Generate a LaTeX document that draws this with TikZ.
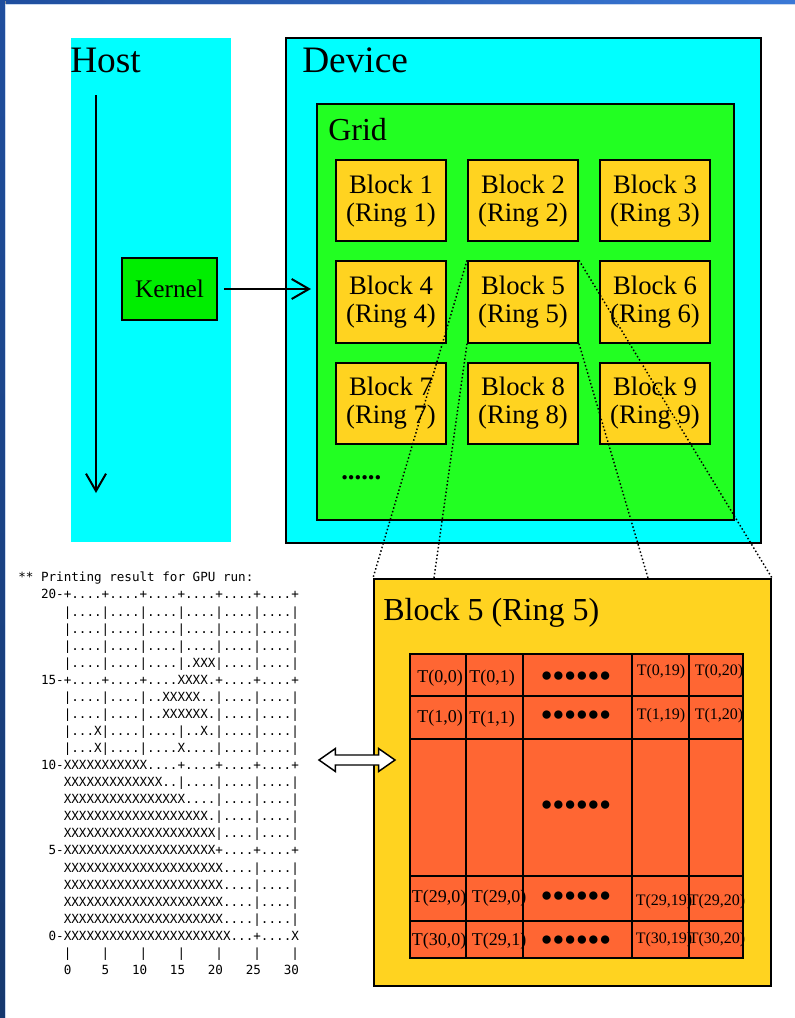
\documentclass[tikz,border=0pt]{standalone}
\usepackage{fontspec}
\setmainfont{Liberation Serif}
\setmonofont{DejaVu Sans Mono}
\usepackage{xcolor}
\definecolor{gpucyan}{HTML}{00FFFF}
\definecolor{gpugrid}{HTML}{22FF22}
\definecolor{gpukern}{HTML}{00EE00}
\definecolor{gpublock}{HTML}{FFD320}
\definecolor{gputhread}{HTML}{FF6633}
\definecolor{frametop}{HTML}{1F4E9E}
\definecolor{frameright}{HTML}{3A78D6}
\definecolor{framebot}{HTML}{16386E}
\definecolor{framelite}{HTML}{C8D8F0}
\usepackage{tikz}
\usetikzlibrary{arrows.meta, positioning, shapes.arrows, shadows}

\begin{document}
\begin{tikzpicture}[
  x=0.75pt, y=-0.75pt,
  area/.style={rectangle, draw=black, line width=1.5pt,
    anchor=north west, inner sep=0pt},
  shade/.style={drop shadow={shadow xshift=1.1pt, shadow yshift=-1.1pt,
    fill=black!40, opacity=1}},
  blk/.style={rectangle, draw=black, line width=1.5pt, fill=gpublock,
    minimum width=82.5pt, minimum height=61pt, inner sep=0pt,
    align=center, font=\fontsize{20}{21}\selectfont},
  ttl/.style={anchor=base west, inner sep=0pt,
    font=\fontsize{28}{30}\selectfont},
  sub/.style={anchor=base west, inner sep=0pt,
    font=\fontsize{24}{26}\selectfont},
  tc/.style={inner sep=0pt, font=\fontsize{13.5}{14}\selectfont},
  ts/.style={inner sep=0pt, font=\fontsize{12}{13}\selectfont},
  dots/.style={inner sep=0pt, font=\fontsize{14.5}{15}\selectfont},
  cellln/.style={line width=1.4pt},
  arr/.style={-{Straight Barb[length=13pt, width=15pt]}, line width=1.5pt},
  zoomln/.style={line width=1.1pt, dash pattern=on 1.1pt off 1.7pt},
  ascii/.style={anchor=north west, inner sep=0pt, align=left,
    font=\ttfamily\fontsize{9.45}{12.8}\selectfont},
  dblarr/.style={double arrow, draw=black, fill=white, line width=1.1pt,
    minimum height=57pt, inner xsep=0pt, inner ysep=3.2pt,
    double arrow head extend=4.8pt, double arrow tip angle=70}
]
  \useasboundingbox (0,0) rectangle (795,1018);

  % window frame
  \shade[left color=frametop, right color=frameright] (0,0) rectangle (795,4);
  \shade[top color=frametop, bottom color=framebot] (0,0) rectangle (5,1018);
  \draw[framelite, line width=0.75pt] (5.5,1018) -- (5.5,4.5) -- (795,4.5);

  % Host side
  \node[area, draw=none, fill=gpucyan, minimum width=120pt,
    minimum height=378pt] (host) at (70,37) {};
  \node[ttl] (hostlbl) at ([shift={(0,35)}]host.north west) {Host};
  \coordinate (hs) at (96,95);
  \coordinate (he) at (96,493);
  \draw[arr] (hs) -- (he);
  \node[area, fill=gpukern, minimum width=71.25pt, minimum height=46.5pt,
    font=\fontsize{19}{20}\selectfont] (kern) at (121,257) {};
  \node[font=\fontsize{19}{20}\selectfont] at (kern.center) {Kernel};

  % Device side
  \node[area, shade, fill=gpucyan, minimum width=356.25pt,
    minimum height=378.75pt] (dev) at (285,37) {};
  \node[ttl] (devlbl) at ([shift={(17,35)}]dev.north west) {Device};
  \node[area, fill=gpugrid, minimum width=312.75pt,
    minimum height=312pt] (grid) at (316,103) {};
  \node[sub] (gridlbl) at ([shift={(12,37)}]grid.north west) {Grid};

  \draw[arr] ([xshift=4.5pt]kern.east) -- ([xshift=-3.75pt]kern.east -| grid.west);

  % blocks
  \node[blk, anchor=north west] (b1) at ([shift={(19,56)}]grid.north west)
    {Block 1\\(Ring 1)};
  \node[blk, right=15pt of b1] (b2) {Block 2\\(Ring 2)};
  \node[blk, right=15pt of b2] (b3) {Block 3\\(Ring 3)};
  \node[blk, below=13.5pt of b1] (b4) {Block 4\\(Ring 4)};
  \node[blk, right=15pt of b4] (b5) {Block 5\\(Ring 5)};
  \node[blk, right=15pt of b5] (b6) {Block 6\\(Ring 6)};
  \node[blk, below=13.5pt of b4] (b7) {Block 7\\(Ring 7)};
  \node[blk, right=15pt of b7] (b8) {Block 8\\(Ring 8)};
  \node[blk, right=15pt of b8] (b9) {Block 9\\(Ring 9)};
  \node[anchor=base west, inner sep=0pt,
    font=\fontsize{20}{21}\selectfont\bfseries] (more) at (341,479) {......};

  % Block 5 close-up
  \node[area, shade, fill=gpublock, minimum width=297.75pt,
    minimum height=305.25pt] (big) at (373,578) {};
  \node[sub] (biglbl) at ([shift={(10,42)}]big.north west) {Block 5 (Ring 5)};

  \node[area, fill=gputhread, line width=1.4pt, minimum width=249.75pt,
    minimum height=228pt] (tbl) at ([shift={(36,75)}]big.north west) {};
  \draw[cellln] (466,653) -- (466,959) (523,653) -- (523,959)
    (632,653) -- (632,959) (689,653) -- (689,959)
    (409,696) -- (744,696) (409,739) -- (744,739)
    (409,876) -- (744,876) (409,921) -- (744,921);

  \node[tc] (t00) at (440,678) {T(0,0)};
  \node[tc] (t01) at (492,678) {T(0,1)};
  \node[dots] (r0) at (576,677) {●●●●●●};
  \node[ts] (t019) at (661,672) {T(0,19)};
  \node[ts] (t020) at (719,672) {T(0,20)};

  \node[tc] (t10) at (440,718) {T(1,0)};
  \node[tc] (t11) at (492,719) {T(1,1)};
  \node[dots] (r1) at (576,716) {●●●●●●};
  \node[ts] (t119) at (661,716) {T(1,19)};
  \node[ts] (t120) at (719,716) {T(1,20)};

  \node[dots] (rmid) at (576,806) {●●●●●●};

  \node[tc] (t290) at (439,898) {T(29,0)};
  \node[tc] (t29b) at (499,898) {T(29,0)};
  \node[dots] (r29) at (576,897) {●●●●●●};
  \node[ts] (t2919) at (664,902) {T(29,19)};
  \node[ts] (t2920) at (717,902) {T(29,20)};

  \node[tc] (t300) at (439,941) {T(30,0)};
  \node[tc] (t291) at (499,941) {T(29,1)};
  \node[dots] (r30) at (576,941) {●●●●●●};
  \node[ts] (t3019) at (664,940) {T(30,19)};
  \node[ts] (t3020) at (717,940) {T(30,20)};

  % zoom lines from Block 5
  \coordinate (zl) at (434,578);
  \coordinate (zr) at (648,578);
  \draw[zoomln] (b5.north west) -- (big.north west);
  \draw[zoomln] (b5.south west) -- (zl);
  \draw[zoomln] (b5.south east) -- (zr);
  \draw[zoomln] (b5.north east) -- (big.north east);

  % text output of the run
  \node[ascii] (gpuout) at (18,572) {%
** Printing result for GPU run:\\
~~~20-+....+....+....+....+....+....+\\
~~~~~~|....|....|....|....|....|....|\\
~~~~~~|....|....|....|....|....|....|\\
~~~~~~|....|....|....|....|....|....|\\
~~~~~~|....|....|....|.XXX|....|....|\\
~~~15-+....+....+....XXXX.+....+....+\\
~~~~~~|....|....|..XXXXX..|....|....|\\
~~~~~~|....|....|..XXXXXX.|....|....|\\
~~~~~~|...X|....|....|..X.|....|....|\\
~~~~~~|...X|....|....X....|....|....|\\
~~~10-XXXXXXXXXXX....+....+....+....+\\
~~~~~~XXXXXXXXXXXXX..|....|....|....|\\
~~~~~~XXXXXXXXXXXXXXXX....|....|....|\\
~~~~~~XXXXXXXXXXXXXXXXXXX.|....|....|\\
~~~~~~XXXXXXXXXXXXXXXXXXXX|....|....|\\
~~~~5-XXXXXXXXXXXXXXXXXXXX+....+....+\\
~~~~~~XXXXXXXXXXXXXXXXXXXXX....|....|\\
~~~~~~XXXXXXXXXXXXXXXXXXXXX....|....|\\
~~~~~~XXXXXXXXXXXXXXXXXXXXX....|....|\\
~~~~~~XXXXXXXXXXXXXXXXXXXXX....|....|\\
~~~~0-XXXXXXXXXXXXXXXXXXXXXX...+....X\\
~~~~~~|~~~~|~~~~|~~~~|~~~~|~~~~|~~~~|\\
~~~~~~0~~~~5~~~10~~~15~~~20~~~25~~~30};

  \node[dblarr] (xchg) at (357,760) {};
\end{tikzpicture}
\end{document}
